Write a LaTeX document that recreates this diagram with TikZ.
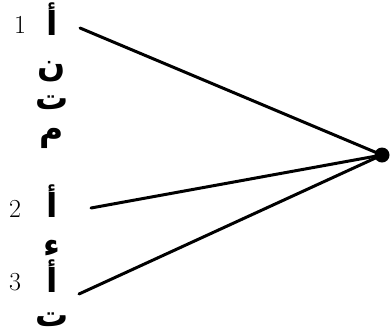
\documentclass[tikz,border=0pt]{standalone}
\usepackage{fontspec}
\newfontfamily\arabicfont[Script=Arabic]{DejaVu Sans}
\TeXXeTstate=1
\usetikzlibrary{positioning}

\begin{document}
\begin{tikzpicture}[x=1pt, y=-1pt,
    every node/.style={inner sep=0pt, anchor=base},
    num/.style={font=\fontsize{26}{26}\selectfont},
    harf/.style={font=\arabicfont\bfseries\fontsize{33}{33}\selectfont},
    edge/.style={line width=3pt, line cap=round}]
\useasboundingbox (0,0) rectangle (391,333);

% numbers
\node[num] (n1) at (20,33) {1};
\node[num] (n2) at (15,217) {2};
\node[num] (n3) at (15,290) {3};

% letters
\node[harf] (h1) at (52,35) {\beginR أ\endR};
\node[harf] (h2) at (52,76) {\beginR ن\endR};
\node[harf] (h3) at (52,109) {\beginR ت\endR};
\node[harf] (h4) at (52,140) {\beginR م\endR};
\node[harf] (h5) at (52,217) {\beginR أ\endR};
\node[harf] (h6) at (52,256) {\beginR ء\endR};
\node[harf] (h7) at (52,292) {\beginR أ\endR};
\node[harf] (h8) at (52,326) {\beginR ت\endR};

% hub and lines
\node[circle, fill, minimum size=15pt, anchor=center] (hub) at (382,155) {};
\coordinate (s1) at (80,28);
\coordinate (s2) at (91,208);
\coordinate (s3) at (79,294);
\draw[edge] (s1) -- (hub.center);
\draw[edge] (s2) -- (hub.center);
\draw[edge] (s3) -- (hub.center);
\end{tikzpicture}
\end{document}
